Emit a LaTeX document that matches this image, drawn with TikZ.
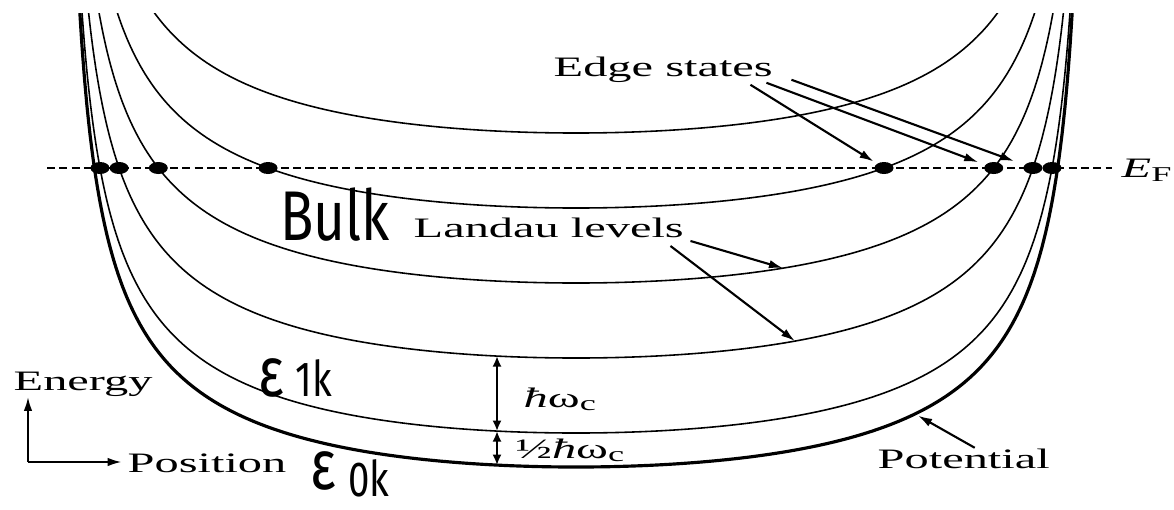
\documentclass[tikz,border=0pt]{standalone}
\usepackage{fontspec}
\setmainfont{Liberation Serif}[FakeStretch=1.72]
\newfontfamily\handfont{Fira Sans}[FakeStretch=0.78]
\usetikzlibrary{arrows.meta,shapes.geometric}

\begin{document}
\begin{tikzpicture}[x=0.01cm, y=-0.01cm,
    declare function={welld(\a)=514*sin(\a);
                      wellh(\a)=160.6*(1/cos(\a)-1);
                      wellat(\d)=160.6*(1/sqrt(1-(\d/514)^2)-1);
                      wallat(\h)=514*sin(acos(1/(1+\h/160.6)));},
    txt/.style={font=\fontsize{8}{9}\selectfont, inner sep=0pt},
    hand/.style={font=\handfont\fontsize{20}{22}\selectfont, inner sep=0pt},
    level/.style={line width=0.45pt, domain=77.5:0, samples=311},
    pointer/.style={line width=0.6pt, -{Latex[length=4pt,width=2.4pt]}},
    gap/.style={line width=0.7pt, {Latex[length=3pt,width=2.6pt]}-{Latex[length=3pt,width=2.6pt]}},
    edgedot/.style={ellipse, fill, inner sep=0pt, minimum width=0.19cm, minimum height=0.12cm}]

    \useasboundingbox (0,0) rectangle (1174,509);

    % Potential and Landau levels (potential shifted up)
    \begin{scope}
        \clip (0,13) rectangle (1174,509);
        \draw[level, line width=0.9pt]
            plot ({576-welld(\x)},{467-wellh(\x)})
            -- plot[domain=0:77.5] ({576+welld(\x)},{467-wellh(\x)});
        \foreach \s in {34,109,184,259,334}
            \draw[level] plot ({576-welld(\x)},{467-\s-wellh(\x)})
                -- plot[domain=0:77.5] ({576+welld(\x)},{467-\s-wellh(\x)});
    \end{scope}

    % Fermi level
    \node[txt, anchor=base west] (ef) at (1121,177) {\textit{E}\textsubscript{F}};
    \coordinate (efstart) at (47,168);
    \draw[line width=0.55pt, dash pattern=on 2.3pt off 1.2pt, shorten >=2.5pt]
        (efstart) -- (efstart -| ef.west);

    % Edge states
    \foreach \n/\s in {0/34,1/109,2/184,3/259} {
        \node[edgedot] (dl\n) at ({576-wallat(299-\s)},168) {};
        \node[edgedot] (dr\n) at ({576+wallat(299-\s)},168) {};
    }
    \node[txt, anchor=base west] (edge) at (553,76) {Edge states};
    \draw[pointer, shorten >=1pt] ([xshift=-0.23cm,yshift=-0.02cm]edge.south east) -- (dr3);
    \draw[pointer, shorten >=2pt] ([xshift=-0.07cm]edge.south east) -- (dr2);
    \draw[pointer, shorten >=3pt] ([xshift=0.18cm,yshift=0.03cm]edge.south east) -- (dr1);

    % Landau levels
    \node[txt, anchor=base west] (landau) at (413,237) {Landau levels};
    \coordinate (lv2) at (783,{467-184-wellat(207)});
    \coordinate (lv1) at (795,{467-109-wellat(219)});
    \draw[pointer] ([xshift=0.06cm,yshift=-0.03cm]landau.south east) -- (lv2);
    \draw[pointer] ([xshift=-0.14cm,yshift=-0.08cm]landau.south east) -- (lv1);

    % Level spacing
    \coordinate (hwp) at (497,{467-wellat(79)});
    \coordinate (hw0) at (497,{467-34-wellat(79)});
    \coordinate (hw1) at (497,{467-109-wellat(79)});
    \draw[gap] (hw1) -- (hw0);
    \draw[gap] (hw0) -- (hwp);
    \node[txt, anchor=base west] (hw) at (523,407) {\textit{ħ}ω\textsubscript{c}};
    \node[txt, anchor=base west] (halfhw) at (515,458) {½\textit{ħ}ω\textsubscript{c}};

    % Potential
    \node[txt, anchor=base west] (pot) at (877,468) {Potential};
    \coordinate (potmark) at (915,{467-wellat(339)});
    \draw[pointer, shorten >=1pt] ([xshift=0.11cm]pot.north) -- (potmark);

    % Axes
    \coordinate (origin) at (28,462);
    \node[txt, anchor=base west] (energy) at (13,390) {Energy};
    \node[txt, anchor=base west] (position) at (127,472) {Position};
    \draw[pointer] (origin) -- (origin |- energy.south);
    \draw[pointer, shorten >=1.5pt] (origin) -- (origin -| position.west);

    % Handwritten notes
    \node[hand] (bulk) at (335,215) {Bulk};
    \node[hand] (e1) at (295,378) {ε\,{\fontsize{14}{15}\selectfont 1k}};
    \node[hand] (e0) at (350,474) {ε\,\raisebox{-2pt}{\fontsize{14}{15}\selectfont 0k}};

\end{tikzpicture}
\end{document}
